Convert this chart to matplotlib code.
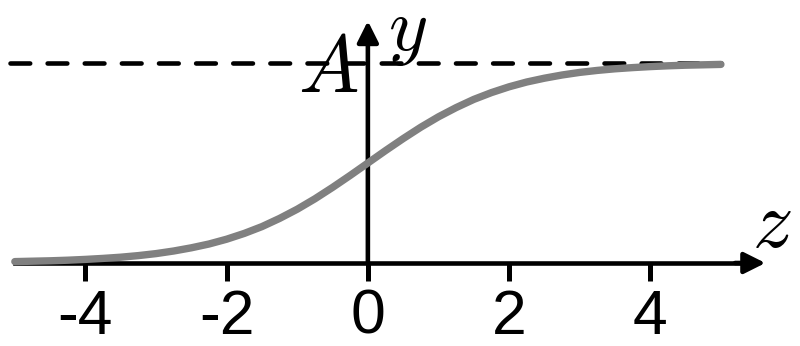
import numpy as np
import matplotlib.pyplot as plt

plt.rcParams['mathtext.fontset'] = 'cm'

# values (y as a fraction of A)
z = [-5, -4.75, -4.5, -4.25, -4, -3.75, -3.5, -3.25, -3, -2.75, -2.5,
     -2.25, -2, -1.75, -1.5, -1.25, -1, -0.75, -0.5, -0.25, 0,
     0.25, 0.5, 0.75, 1, 1.25, 1.5, 1.75, 2, 2.25, 2.5,
     2.75, 3, 3.25, 3.5, 3.75, 4, 4.25, 4.5, 4.75, 5]
y = [0.007, 0.009, 0.011, 0.014, 0.018, 0.023, 0.029, 0.037, 0.047, 0.060, 0.076,
     0.095, 0.119, 0.148, 0.182, 0.223, 0.269, 0.321, 0.378, 0.438, 0.5,
     0.562, 0.622, 0.679, 0.731, 0.777, 0.818, 0.852, 0.881, 0.905, 0.924,
     0.940, 0.953, 0.963, 0.971, 0.977, 0.982, 0.986, 0.989, 0.991, 0.993]
xticks = [-4, -2, 0, 2, 4]
xticklabels = ['-4', '-2', '0', '2', '4']
A = 1.0

fig = plt.figure(figsize=(8, 3.46), dpi=100)
ax = fig.add_axes([0, 0, 1, 1])
ax.set_xlim(-5.21, 6.12)
ax.set_ylim(-0.415, 1.315)

for s in ['top', 'right', 'left']:
    ax.spines[s].set_visible(False)
ax.spines['bottom'].set_position(('data', 0))
ax.spines['bottom'].set_bounds(-5, 5.4)
ax.spines['bottom'].set_linewidth(3.3)
ax.set_yticks([])
ax.set_xticks(xticks)
ax.set_xticklabels(xticklabels, family='Liberation Sans', fontsize=45)
ax.tick_params(axis='x', direction='out', length=13, width=3.6, pad=5)

# axis arrows
arr = dict(arrowstyle='-|>', lw=3.3, color='k', mutation_scale=32, shrinkA=0, shrinkB=0)
ax.annotate('', xy=(5.63, 0), xytext=(5.2, 0), arrowprops=arr)
ax.annotate('', xy=(0, 1.21), xytext=(0, 0), arrowprops=arr)

# asymptote
ax.plot([-5.07, 5.0], [A, A], color='k', lw=3.3, dashes=(4.3, 3.8), dash_capstyle='round')

# curve
ax.plot(z, y, color='#808080', lw=5.3, solid_capstyle='round', solid_joinstyle='round', zorder=5)

ax.text(-0.14, 0.855, r'$A$', fontsize=58, ha='right', va='baseline')
ax.text(0.28, 1.065, r'$y$', fontsize=54, ha='left', va='baseline')
ax.text(5.44, 0.08, r'$z$', fontsize=58, ha='left', va='baseline')

fig.savefig('out.png', dpi=100)
